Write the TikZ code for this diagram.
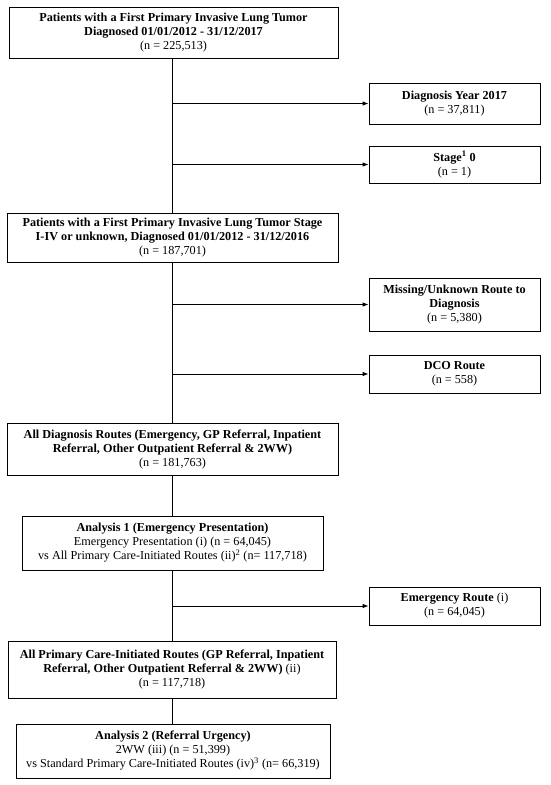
\documentclass[tikz,border=0pt]{standalone}
\usepackage{fontspec}
\setmainfont{Liberation Serif}
\usetikzlibrary{arrows.meta}
\begin{document}
\begin{tikzpicture}[x=1pt,y=-1pt,
  box/.style={draw=black,line width=0.8pt,rectangle,align=center,inner sep=0pt,
    font=\fontsize{12.2}{14}\selectfont},
  conn/.style={line width=0.8pt,draw=black},
  arr/.style={conn,-{Latex[length=6pt,width=4.5pt]}}]
\useasboundingbox (0,0) rectangle (550,785);
\node[box,minimum width=329,minimum height=51] (b1) at (173.5,32.5)
  {\textbf{Patients with a First Primary Invasive Lung Tumor}\\\textbf{Diagnosed 01/01/2012 - 31/12/2017}\\(n = 225,513)};
\node[box,minimum width=171,minimum height=41] (e1) at (454.5,103.5)
  {\textbf{Diagnosis Year 2017}\\(n = 37,811)};
\node[box,minimum width=171,minimum height=37] (e2) at (454.5,164.5)
  {\textbf{Stage\textsuperscript{1} 0}\\(n = 1)};
\node[box,minimum width=331,minimum height=49] (b2) at (172.5,237.5)
  {\textbf{Patients with a First Primary Invasive Lung Tumor Stage}\\\textbf{I-IV or unknown, Diagnosed 01/01/2012 - 31/12/2016}\\(n = 187,701)};
\node[box,minimum width=171,minimum height=53] (e3) at (454.5,304.5)
  {\textbf{Missing/Unknown Route to}\\\textbf{Diagnosis}\\(n = 5,380)};
\node[box,minimum width=171,minimum height=38] (e4) at (454.5,374)
  {\textbf{DCO Route}\\(n = 558)};
\node[box,minimum width=331,minimum height=52] (b3) at (172.5,449)
  {\textbf{All Diagnosis Routes (Emergency, GP Referral, Inpatient}\\\textbf{Referral, Other Outpatient Referral \& 2WW)}\\(n = 181,763)};
\node[box,minimum width=301,minimum height=54] (a1) at (172.5,543)
  {\textbf{Analysis 1 (Emergency Presentation)}\\Emergency Presentation (i) (n = 64,045)\\vs All Primary Care-Initiated Routes (ii)\textsuperscript{2} (n= 117,718)};
\node[box,minimum width=171,minimum height=38] (e5) at (454.5,606)
  {\textbf{Emergency Route} (i)\\(n = 64,045)};
\node[box,minimum width=328,minimum height=57] (b4) at (172,669.5)
  {\textbf{All Primary Care-Initiated Routes (GP Referral, Inpatient}\\\textbf{Referral, Other Outpatient Referral \& 2WW)} (ii)\\(n = 117,718)};
\node[box,minimum width=314,minimum height=54] (a2) at (173,751)
  {\textbf{Analysis 2 (Referral Urgency)}\\2WW (iii) (n = 51,399)\\vs Standard Primary Care-Initiated Routes (iv)\textsuperscript{3} (n= 66,319)};
\coordinate (j1) at (172,103.5);
\coordinate (j2) at (172,164.5);
\coordinate (j3) at (172,304.5);
\coordinate (j4) at (172,374);
\coordinate (j5) at (172,606);
\draw[conn] (b1.south -| j1) -- (b2.north -| j1);
\draw[conn] (b2.south -| j1) -- (b3.north -| j1);
\draw[conn] (b3.south -| j1) -- (a1.north -| j1);
\draw[conn] (a1.south -| j1) -- (b4.north -| j1);
\draw[conn] (b4.south -| j1) -- (a2.north -| j1);
\draw[arr] (j1) -- (e1.west);
\draw[arr] (j2) -- (e2.west);
\draw[arr] (j3) -- (e3.west);
\draw[arr] (j4) -- (e4.west);
\draw[arr] (j5) -- (e5.west);
\end{tikzpicture}
\end{document}
